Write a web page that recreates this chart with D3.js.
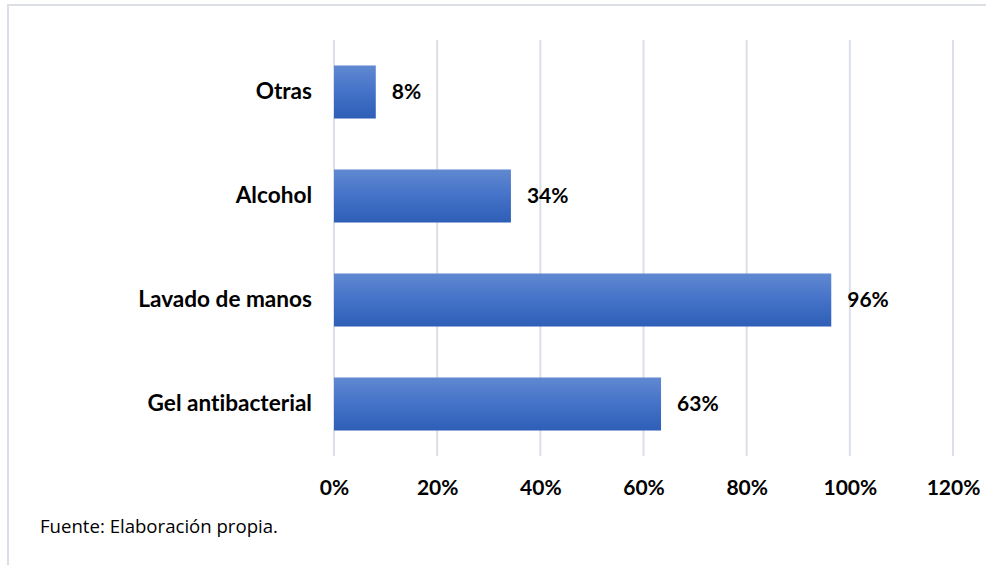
<!DOCTYPE html>
<html><head><meta charset="utf-8">
<script src="https://cdn.jsdelivr.net/npm/d3@7"></script>
<style>body{margin:0;background:#fff}svg{display:block}text{font-variant-ligatures:none;font-feature-settings:"liga" 0,"clig" 0}</style>
</head><body>
<svg id="c" width="986" height="565"></svg>
<script>
const categories = ["Otras", "Alcohol", "Lavado de manos", "Gel antibacterial"];
const values = [0.081, 0.343, 0.964, 0.634];
const ticks = [0, 0.2, 0.4, 0.6, 0.8, 1.0, 1.2];
const source = "Fuente: Elaboración propia.";

const svg = d3.select("#c");
const font = "Lato, 'Liberation Sans', sans-serif";

// frame lines
svg.append("line").attr("x1",8).attr("x2",986).attr("y1",5).attr("y2",5).attr("stroke","#dcdee6").attr("stroke-width",2);
svg.append("line").attr("x1",8).attr("x2",8).attr("y1",4).attr("y2",565).attr("stroke","#dcdee6").attr("stroke-width",2);

const x = d3.scaleLinear().domain([0,1.2]).range([334,953]);
const y = d3.scaleBand().domain(categories).range([40,456]).paddingInner(0.49).paddingOuter(0.245);

const defs = svg.append("defs");
const g = defs.append("linearGradient").attr("id","bg").attr("x1",0).attr("x2",0).attr("y1",0).attr("y2",1);
g.append("stop").attr("offset","0%").attr("stop-color","#6189d1");
g.append("stop").attr("offset","50%").attr("stop-color","#4472c8");
g.append("stop").attr("offset","100%").attr("stop-color","#2e5eb6");

// gridlines
svg.append("g").selectAll("line").data(ticks).join("line")
  .attr("x1",d=>x(d)).attr("x2",d=>x(d)).attr("y1",40).attr("y2",456)
  .attr("stroke","#dcdfe7").attr("stroke-width",2);

// x tick labels
const xAxis = d3.axisBottom(x).tickValues(ticks).tickSize(0).tickFormat(d=>Math.round(d*100)+"%");
const xa = svg.append("g").attr("transform","translate(0,456)").call(xAxis);
xa.select(".domain").remove();
xa.selectAll("text").attr("dy",0).attr("y",39).attr("font-family",font).attr("font-weight","bold").attr("font-size",21).attr("fill","#000");

// y labels
const yAxis = d3.axisLeft(y).tickSize(0).tickPadding(22);
const ya = svg.append("g").attr("transform","translate(334,0)").call(yAxis);
ya.select(".domain").remove();
ya.selectAll("text").attr("font-family",font).attr("font-weight","bold").attr("font-size",22.6).attr("fill","#000");

// bars
svg.append("g").selectAll("rect").data(categories).join("rect")
  .attr("x",x(0)).attr("y",d=>y(d)).attr("width",(d,i)=>x(values[i])-x(0)).attr("height",y.bandwidth())
  .attr("fill","url(#bg)");

// value labels
svg.append("g").selectAll("text").data(categories).join("text")
  .attr("x",(d,i)=>x(values[i])+16).attr("y",d=>y(d)+y.bandwidth()/2).attr("dy","0.35em")
  .attr("font-family",font).attr("font-weight","bold").attr("font-size",21).attr("fill","#000")
  .text((d,i)=>Math.round(values[i]*100)+"%");

svg.append("text").attr("x",40).attr("y",533).attr("font-family","'Open Sans', sans-serif").attr("font-size",18.6).attr("fill","#000").text(source);
</script>
</body></html>
